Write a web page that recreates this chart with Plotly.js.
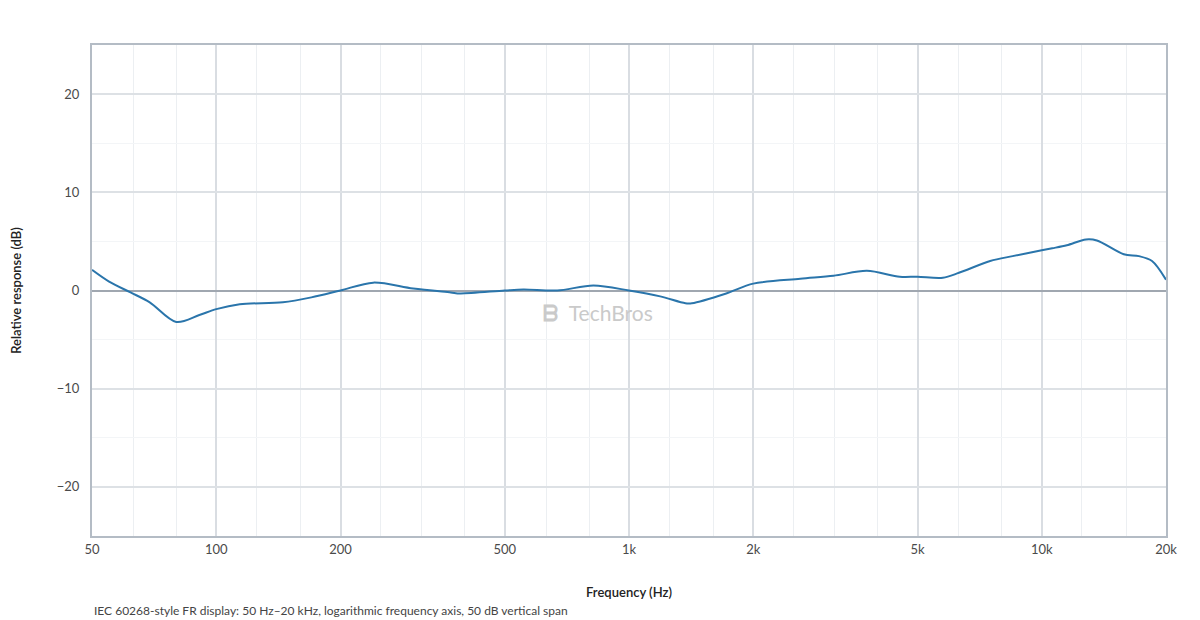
<!DOCTYPE html>
<html>
<head>
<meta charset="utf-8">
<script src="https://cdn.plot.ly/plotly-3.0.1.min.js"></script>
<style>
  html, body { margin: 0; padding: 0; background: #fff; }
  #chart { width: 1200px; height: 620px; }
</style>
</head>
<body>
<div id="chart"></div>
<script>
  // frequency response (Hz / dB)
  const freqHz = [50, 55, 62, 69, 80, 91, 100, 114, 145, 170, 200, 240, 300, 370, 390,
    500, 555, 670, 820, 1000, 1190, 1370, 1420, 1720, 2000, 2600, 3130, 3770, 4530,
    5000, 5760, 6300, 7500, 8500, 10000, 10600, 11500, 12800, 13600, 15800, 17200,
    18500, 20000];
  const responseDb = [2.1, 0.9, -0.2, -1.2, -3.2, -2.5, -1.9, -1.4, -1.2, -0.7, 0, 0.8,
    0.2, -0.2, -0.3, 0, 0.1, 0, 0.5, 0, -0.6, -1.3, -1.3, -0.3, 0.7, 1.2, 1.5, 2.0, 1.4,
    1.4, 1.3, 1.8, 3.0, 3.5, 4.1, 4.3, 4.6, 5.2, 5.1, 3.7, 3.5, 3.0, 1.1];

  const majorTicks = [50, 100, 200, 500, 1000, 2000, 5000, 10000, 20000];
  const majorLabels = ['50', '100', '200', '500', '1k', '2k', '5k', '10k', '20k'];
  // third-octave lines between the labelled ones
  const minorTicks = [63, 80, 125, 160, 250, 315, 400, 630, 800, 1250, 1600, 2500,
    3150, 4000, 6300, 8000, 12500, 16000];
  const dbTicks = [-20, -10, 0, 10, 20];
  const dbMinor = [-15, -5, 5, 15];

  const font = 'Lato, "Open Sans", sans-serif';
  const frame = '#b4bcc5';

  const trace = {
    x: freqHz,
    y: responseDb,
    mode: 'lines',
    line: { color: '#2a75ab', width: 2, shape: 'spline', smoothing: 0.9 },
    hoverinfo: 'x+y',
  };

  const layout = {
    width: 1200,
    height: 620,
    paper_bgcolor: '#fff',
    plot_bgcolor: '#fff',
    font: { family: font, size: 13, color: '#4a4a4a' },
    margin: { l: 92, r: 34, t: 45, b: 84 },
    showlegend: false,
    xaxis: {
      type: 'log',
      range: [Math.log10(50), Math.log10(20000)],
      tickmode: 'array',
      tickvals: majorTicks,
      ticktext: majorLabels,
      ticks: '',
      gridcolor: '#d9dde2',
      gridwidth: 2,
      showline: true,
      linecolor: frame,
      linewidth: 2,
      mirror: true,
      zeroline: false,
      minor: { tickvals: minorTicks, showgrid: true, gridcolor: '#eceff2', gridwidth: 1, ticks: '' },
      title: { text: 'Frequency (Hz)', standoff: 32, font: { size: 13, color: '#222', weight: 600 } },
      tickfont: { size: 13, color: '#4a4a4a' },
    },
    yaxis: {
      range: [-25, 25],
      tickmode: 'array',
      tickvals: dbTicks,
      ticks: '',
      ticklabelstandoff: 8,
      gridcolor: '#dde1e5',
      gridwidth: 2,
      showline: true,
      linecolor: frame,
      linewidth: 2,
      mirror: true,
      zeroline: true,
      zerolinecolor: '#a0a7b0',
      zerolinewidth: 2,
      minor: { tickvals: dbMinor, showgrid: true, gridcolor: '#f3f5f7', gridwidth: 1, ticks: '' },
      title: { text: 'Relative response (dB)', standoff: 32, font: { size: 13, color: '#222', weight: 600 } },
      tickfont: { size: 13, color: '#4a4a4a' },
    },
    annotations: [
      {
        xref: 'paper', yref: 'paper', x: 0.471, y: 0.456,
        text: '<b>ᗷ</b>  TechBros', showarrow: false,
        font: { family: font, size: 21, color: '#cacaca' },
      },
      {
        xref: 'paper', yref: 'paper', x: 0, y: -0.151, xanchor: 'left', yanchor: 'middle',
        text: 'IEC 60268-style FR display: 50 Hz–20 kHz, logarithmic frequency axis, 50 dB vertical span',
        showarrow: false, font: { family: font, size: 12, color: '#444' },
      },
    ],
  };

  Plotly.newPlot('chart', [trace], layout, { displayModeBar: false, staticPlot: true });
</script>
</body>
</html>
